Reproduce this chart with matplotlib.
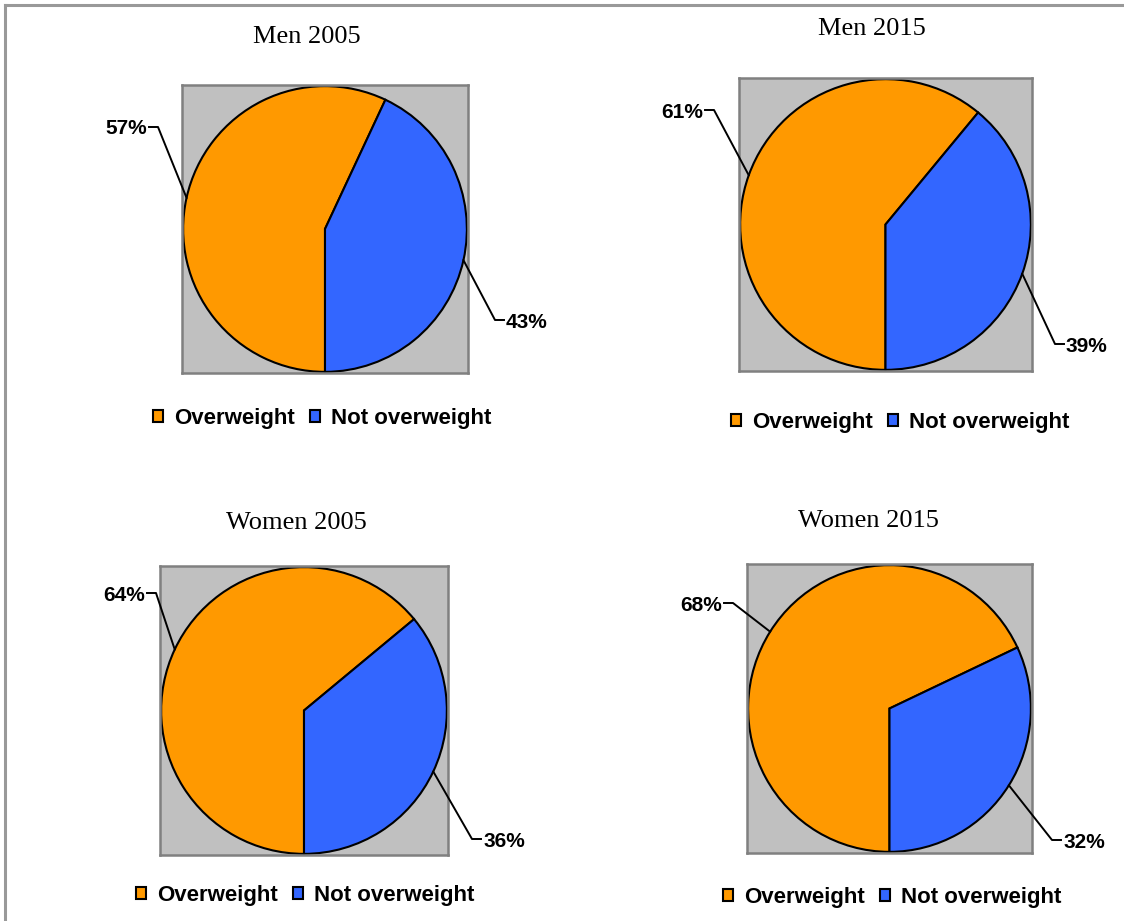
import matplotlib
matplotlib.use('Agg')
import matplotlib.pyplot as plt
import matplotlib.transforms as mtransforms
from matplotlib.lines import Line2D
import numpy as np

W, H = 1124, 921

# data
titles = ['Men 2005', 'Men 2015', 'Women 2005', 'Women 2015']
categories = ['Overweight', 'Not overweight']
overweight = [57, 61, 64, 68]
not_overweight = [43, 39, 36, 32]
colors = ['#FF9900', '#3366FF']

# layout in pixels, origin top left
plot_boxes = [(182, 85, 468, 373), (739, 78, 1032, 371),
              (160, 566, 448, 855), (747, 564, 1032, 853)]  # left, top, right, bottom
title_pos = [(307, 43), (872, 35), (296, 529), (868, 527)]
legend_pos = [(322, 418), (900, 422), (305, 895), (892, 897)]
# label text edge (x) and vertical centre (y) for each slice
label_pos = [[(147, 127), (506, 320)], [(703, 110), (1066, 344)],
             [(145, 593), (483, 839)], [(722, 603), (1063, 840)]]

fig = plt.figure(figsize=(W / 100, H / 100), dpi=100)
px = mtransforms.Affine2D().scale(1 / W, -1 / H).translate(0, 1) + fig.transFigure

# outer frame (only top and left edges visible)
fig.add_artist(Line2D([5, W + 5], [5, 5], transform=px, color='#999999', lw=2.2))
fig.add_artist(Line2D([5, 5], [5, H + 5], transform=px, color='#999999', lw=2.2))

lim = 1.008
for i in range(4):
    l, t, r, b = plot_boxes[i]
    ax = fig.add_axes([l / W, 1 - b / H, (r - l) / W, (b - t) / H])
    vals = [overweight[i], not_overweight[i]]
    wedges, _ = ax.pie(vals, colors=colors, startangle=270, counterclock=False,
                       wedgeprops=dict(edgecolor='black', linewidth=1.5), frame=True)
    ax.set_aspect('auto')
    ax.set_xlim(-lim, lim)
    ax.set_ylim(-lim, lim)
    ax.set_facecolor('#C0C0C0')
    ax.set_xticks([])
    ax.set_yticks([])
    for s in ax.spines.values():
        s.set_color('#808080')
        s.set_linewidth(1.8)

    fig.text(title_pos[i][0], title_pos[i][1], titles[i], transform=px,
             ha='center', va='baseline', fontsize=19, family='Liberation Serif')

    # data labels with leader lines
    cx, cy = (l + r) / 2, (t + b) / 2
    rx, ry = (r - l) / 2 / lim, (b - t) / 2 / lim
    for j, w in enumerate(wedges):
        th = np.deg2rad((w.theta1 + w.theta2) / 2)
        ex, ey = cx + rx * np.cos(th), cy - ry * np.sin(th)
        tx, ty = label_pos[i][j]
        d = 1 if j == 0 else -1
        fig.add_artist(Line2D([ex, tx + d * 11, tx + d * 2], [ey, ty, ty],
                              transform=px, color='black', lw=1.4))
        fig.text(tx, ty + 7.5, f'{vals[j]}%', transform=px,
                 ha='right' if j == 0 else 'left', va='baseline',
                 fontsize=15, fontweight='bold', family='Liberation Sans')

    ax.legend(wedges, categories, loc='center', bbox_to_anchor=legend_pos[i],
              bbox_transform=px, ncol=2, frameon=False,
              prop=dict(family='Liberation Sans', weight='bold', size=16),
              handlelength=0.45, handleheight=0.45, handletextpad=0.5,
              columnspacing=0.7, borderpad=0, borderaxespad=0)

fig.savefig('out.png', dpi=100)
